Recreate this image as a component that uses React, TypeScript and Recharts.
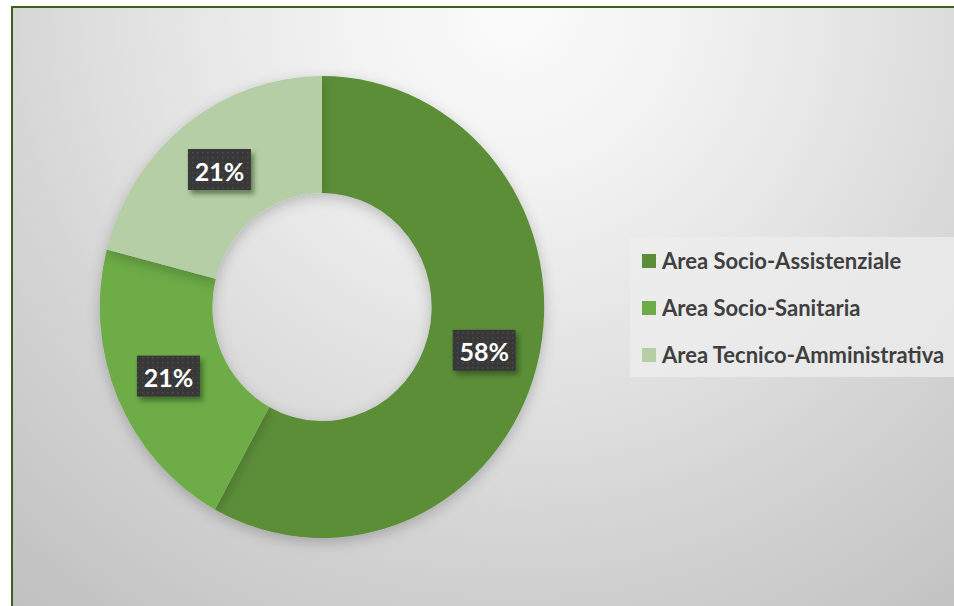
import React from 'react';
import { PieChart, Pie, Cell, Legend, Sector } from 'recharts';

const categories = ['Area Socio-Assistenziale', 'Area Socio-Sanitaria', 'Area Tecnico-Amministrativa'];
const shares = [58, 21, 21];
const sliceColors = ['#5B8E37', '#6DAC47', '#B5CEA5'];

const chartData = categories.map((name, i) => ({ name, value: shares[i] }));

const RADIAN = Math.PI / 180;
// the original donut is a little narrower than it is tall
const SX = 0.962;

const squash = (cx: number, cy: number) =>
  `translate(${cx} ${cy}) scale(${SX} 1) translate(${-cx} ${-cy})`;

const renderSlice = (props: any) => (
  <g transform={squash(props.cx, props.cy)} filter="url(#ringShadow)">
    <Sector {...props} stroke="none" />
  </g>
);

const renderLabel = (props: any) => {
  const { cx, cy, midAngle, percent } = props;
  const r = 174;
  const x = cx + r * Math.cos(-midAngle * RADIAN) * SX;
  const y = cy + r * Math.sin(-midAngle * RADIAN);
  const w = 63;
  const h = 41;
  return (
    <g>
      <rect x={x - w / 2} y={y - h / 2} width={w} height={h} fill="url(#dots)" filter="url(#boxShadow)" />
      <text
        x={x}
        y={y + 1}
        textAnchor="middle"
        dominantBaseline="central"
        fill="#ffffff"
        fontFamily="Lato, 'Open Sans', sans-serif"
        fontWeight={700}
        fontSize={25}
      >
        {`${Math.round(percent * 100)}%`}
      </text>
    </g>
  );
};

const renderLegend = (props: any) => {
  const { payload } = props;
  return (
    <div
      style={{
        background: 'rgba(238,238,238,0.75)',
        boxSizing: 'border-box',
        paddingLeft: 12,
        width: 330,
        height: 140,
      }}
    >
      {payload.map((entry: any) => (
        <div key={entry.value} style={{ display: 'flex', alignItems: 'center', height: 47 }}>
          <span style={{ width: 14, height: 14, background: entry.color, display: 'inline-block', marginRight: 6 }} />
          <span
            style={{
              fontFamily: "Lato, 'Open Sans', sans-serif",
              fontWeight: 700,
              fontSize: 22,
              color: '#3f3f3f',
              whiteSpace: 'nowrap',
            }}
          >
            {entry.value}
          </span>
        </div>
      ))}
    </div>
  );
};

export default function App() {
  return (
    <div style={{ position: 'absolute', left: 0, top: 0, width: 954, height: 606, background: '#ffffff', overflow: 'hidden' }}>
      <svg width={0} height={0} style={{ position: 'absolute' }}>
        <defs>
          <pattern id="dots" width={5} height={5} patternUnits="userSpaceOnUse">
            <rect width={5} height={5} fill="#393939" />
            <rect x={2} y={2} width={1.5} height={1.5} fill="#4c4c4c" />
          </pattern>
          <filter id="boxShadow" x="-30%" y="-30%" width="160%" height="170%">
            <feDropShadow dx={3} dy={4} stdDeviation={2.5} floodColor="#1e3a10" floodOpacity={0.55} />
          </filter>
          <filter id="ringShadow" x="-20%" y="-20%" width="140%" height="140%">
            <feDropShadow dx={0} dy={4} stdDeviation={7} floodColor="#000000" floodOpacity={0.22} />
          </filter>
        </defs>
      </svg>
      <div
        style={{
          position: 'absolute',
          left: 11,
          top: 6,
          width: 960,
          height: 620,
          borderLeft: '2px solid #3a6120',
          borderTop: '2px solid #3a6120',
          background: 'radial-gradient(circle at 500px 0px, #fbfbfb 0px, #f3f3f3 160px, #e4e4e4 350px, #d4d4d4 530px, #c6c6c6 700px, #bdbdbd 840px)',
        }}
      />
      <div style={{ position: 'absolute', left: 0, top: 0 }}>
        <PieChart width={954} height={606} margin={{ top: 0, right: 0, bottom: 0, left: 0 }}>
          <Pie
            data={chartData}
            dataKey="value"
            nameKey="name"
            cx={322}
            cy={307}
            innerRadius={114}
            outerRadius={231}
            startAngle={90}
            endAngle={-270}
            stroke="none"
            shape={renderSlice}
            label={renderLabel}
            labelLine={false}
            isAnimationActive={false}
          >
            {chartData.map((d, i) => (
              <Cell key={d.name} fill={sliceColors[i]} />
            ))}
          </Pie>
          <Legend
            content={renderLegend}
            layout="vertical"
            wrapperStyle={{ position: 'absolute', left: 630, top: 237, width: 330, height: 140 }}
          />
        </PieChart>
      </div>
    </div>
  );
}
